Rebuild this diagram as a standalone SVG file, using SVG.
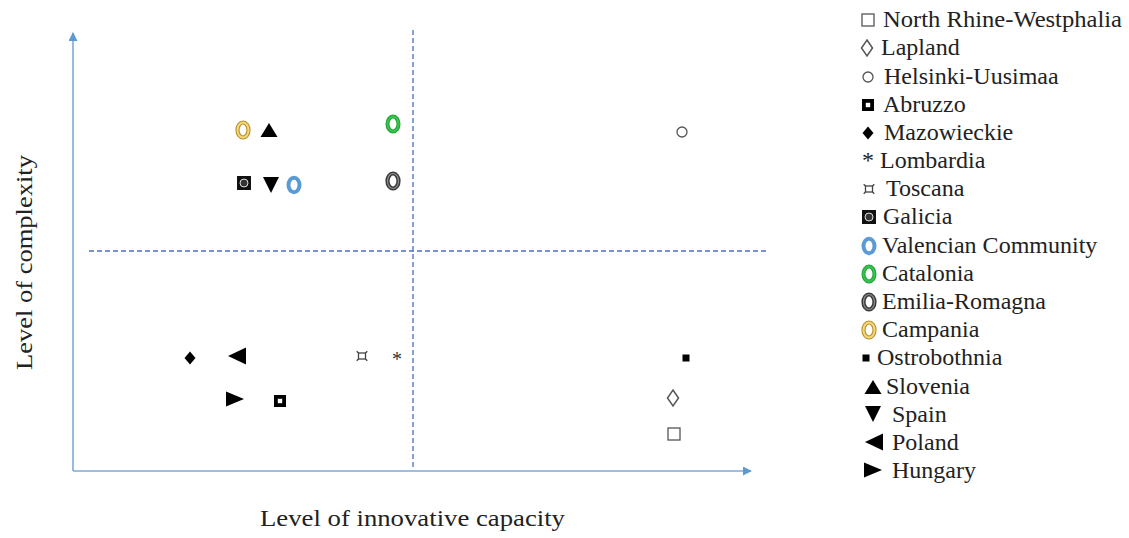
<svg xmlns="http://www.w3.org/2000/svg" xmlns:xlink="http://www.w3.org/1999/xlink" width="1129" height="538" viewBox="0 0 1129 538">
<style>
.lg{font-family:"Liberation Serif","DejaVu Serif",serif;font-size:24px;fill:#222}
.ax{font-family:"Liberation Serif","DejaVu Serif",serif;font-size:24px;fill:#222}
.axis{stroke:#7FA8DA;stroke-width:1.6;fill:none}
.dash{stroke:#4472C4;stroke-width:1.3;stroke-dasharray:5 3;fill:none}
.sym{font-family:"Liberation Serif","DejaVu Serif",serif;fill:#333}
</style>
<defs>
<marker id="arr" viewBox="0 0 10 10" refX="9" refY="5" markerWidth="9" markerHeight="9" markerUnits="userSpaceOnUse" orient="auto"><path d="M0,0 L10,5 L0,10 z" fill="#5B9BD5"/></marker>
<g id="m-nrw"><rect x="-6" y="-6" width="12" height="12" fill="#fff" stroke="#555" stroke-width="1.3"/></g>
<g id="m-lap"><polygon points="0,-8 5.5,0 0,8 -5.5,0" fill="#fff" stroke="#555" stroke-width="1.5"/></g>
<g id="m-hel"><circle r="5" fill="#fff" stroke="#555" stroke-width="1.3"/></g>
<g id="m-abr"><rect x="-6" y="-6" width="12" height="12" fill="#000"/><rect x="-2.2" y="-2.2" width="4.4" height="4.4" fill="#fff"/></g>
<g id="m-maz"><polygon points="0,-6.5 5.5,0 0,6.5 -5.5,0" fill="#000"/></g>
<g id="m-gal"><rect x="-7" y="-7" width="14" height="14" fill="#111"/><circle r="4" fill="#333" stroke="#ddd" stroke-width="1"/></g>
<g id="m-tos"><rect x="-3.5" y="-3" width="7" height="6" fill="none" stroke="#444" stroke-width="1.3"/><path d="M-3.5,-3 l-1.8,-1.8 M3.5,-3 l1.8,-1.8 M-3.5,3 l-1.8,1.8 M3.5,3 l1.8,1.8" stroke="#444" stroke-width="1.3"/></g>
<g id="m-val"><ellipse rx="5.5" ry="7.3" fill="#fff" stroke="#5B9BD5" stroke-width="4"/></g>
<g id="m-cat"><ellipse rx="5.5" ry="7.5" fill="#fff" stroke="#1FA635" stroke-width="4"/><ellipse rx="5.5" ry="7.5" fill="none" stroke="#3CC24F" stroke-width="1.8"/></g>
<g id="m-emi"><ellipse rx="5.5" ry="7.5" fill="#fff" stroke="#3A3A3A" stroke-width="4.2"/><ellipse rx="5.5" ry="7.5" fill="none" stroke="#8E8E8E" stroke-width="1.2"/></g>
<g id="m-cam"><ellipse rx="5.5" ry="7.5" fill="#fff" stroke="#B8912A" stroke-width="4.2"/><ellipse rx="5.5" ry="7.5" fill="none" stroke="#F4D77A" stroke-width="2"/></g>
<g id="m-ost"><rect x="-3.5" y="-3.5" width="7" height="7" fill="#000"/></g>
<g id="m-slo"><polygon points="-8.5,7 8.5,7 0,-7" fill="#000"/></g>
<g id="m-spa"><polygon points="-8,-8 8,-8 0,8" fill="#000"/></g>
<g id="m-pol"><polygon points="9,-8.5 9,8.5 -9,0" fill="#000"/></g>
<g id="m-hun"><polygon points="-9,-7.5 -9,7.5 9,0" fill="#000"/></g>
</defs>
<rect width="1129" height="538" fill="#fff"/>

<g id="connectors">
<line class="axis" x1="73" y1="471" x2="73" y2="33" marker-end="url(#arr)"/>
<line class="axis" x1="73" y1="471" x2="751" y2="471" marker-end="url(#arr)"/>
<line class="dash" x1="413" y1="30" x2="413" y2="469"/>
<line class="dash" x1="89" y1="251" x2="766" y2="251"/>
</g>

<g id="axis-labels">
<text class="ax" x="260" y="526" textLength="305" lengthAdjust="spacingAndGlyphs">Level of innovative capacity</text>
<text class="ax" transform="translate(32,370) rotate(-90)" x="0" y="0" textLength="215" lengthAdjust="spacingAndGlyphs">Level of complexity</text>
</g>

<g id="plot-points">
<g id="p-campania"><use xlink:href="#m-cam" x="243" y="130"/></g>
<g id="p-slovenia"><use xlink:href="#m-slo" x="269" y="130"/></g>
<g id="p-catalonia"><use xlink:href="#m-cat" x="393" y="124"/></g>
<g id="p-galicia"><use xlink:href="#m-gal" x="244" y="183"/></g>
<g id="p-spain"><use xlink:href="#m-spa" x="271" y="185"/></g>
<g id="p-valencian"><use xlink:href="#m-val" x="294" y="185"/></g>
<g id="p-emilia"><use xlink:href="#m-emi" x="393" y="181"/></g>
<g id="p-helsinki"><use xlink:href="#m-hel" x="682" y="132"/></g>
<g id="p-mazowieckie"><use xlink:href="#m-maz" x="190" y="358"/></g>
<g id="p-poland"><use xlink:href="#m-pol" x="237" y="356"/></g>
<g id="p-toscana"><use xlink:href="#m-tos" x="362" y="356"/></g>
<g id="p-lombardia"><text class="sym" x="397" y="366" font-size="20" text-anchor="middle" fill="#555">*</text></g>
<g id="p-hungary"><use xlink:href="#m-hun" x="235" y="399"/></g>
<g id="p-abruzzo"><use xlink:href="#m-abr" x="280" y="401"/></g>
<g id="p-ostrobothnia"><use xlink:href="#m-ost" x="686" y="358"/></g>
<g id="p-lapland"><use xlink:href="#m-lap" x="673" y="398"/></g>
<g id="p-nrw"><use xlink:href="#m-nrw" x="674" y="434"/></g>
</g>

<g id="legend">
<g id="l-nrw"><use xlink:href="#m-nrw" x="868" y="20"/><text class="lg" x="883" y="27" textLength="239" lengthAdjust="spacingAndGlyphs">North Rhine-Westphalia</text></g>
<g id="l-lapland"><use xlink:href="#m-lap" x="867" y="48"/><text class="lg" x="881" y="55">Lapland</text></g>
<g id="l-helsinki"><use xlink:href="#m-hel" x="868" y="77"/><text class="lg" x="884" y="84">Helsinki-Uusimaa</text></g>
<g id="l-abruzzo"><use xlink:href="#m-abr" x="868" y="105"/><text class="lg" x="883" y="112">Abruzzo</text></g>
<g id="l-mazowieckie"><use xlink:href="#m-maz" x="868" y="133"/><text class="lg" x="884" y="140">Mazowieckie</text></g>
<g id="l-lombardia"><text class="lg" x="862" y="168">* Lombardia</text></g>
<g id="l-toscana"><use xlink:href="#m-tos" x="869" y="189"/><text class="lg" x="886" y="196">Toscana</text></g>
<g id="l-galicia"><use xlink:href="#m-gal" x="869" y="217"/><text class="lg" x="883" y="224">Galicia</text></g>
<g id="l-valencian"><use xlink:href="#m-val" x="869" y="246"/><text class="lg" x="882" y="253">Valencian Community</text></g>
<g id="l-catalonia"><use xlink:href="#m-cat" x="869" y="274"/><text class="lg" x="882" y="281">Catalonia</text></g>
<g id="l-emilia"><use xlink:href="#m-emi" x="869" y="302"/><text class="lg" x="882" y="309">Emilia-Romagna</text></g>
<g id="l-campania"><use xlink:href="#m-cam" x="869" y="330"/><text class="lg" x="882" y="337">Campania</text></g>
<g id="l-ostrobothnia"><use xlink:href="#m-ost" x="866" y="358"/><text class="lg" x="877" y="365">Ostrobothnia</text></g>
<g id="l-slovenia"><use xlink:href="#m-slo" x="873" y="387"/><text class="lg" x="886" y="394">Slovenia</text></g>
<g id="l-spain"><use xlink:href="#m-spa" x="873" y="414"/><text class="lg" x="892" y="422">Spain</text></g>
<g id="l-poland"><use xlink:href="#m-pol" x="874" y="442"/><text class="lg" x="892" y="450">Poland</text></g>
<g id="l-hungary"><use xlink:href="#m-hun" x="873" y="470"/><text class="lg" x="892" y="478">Hungary</text></g>
</g>
</svg>
